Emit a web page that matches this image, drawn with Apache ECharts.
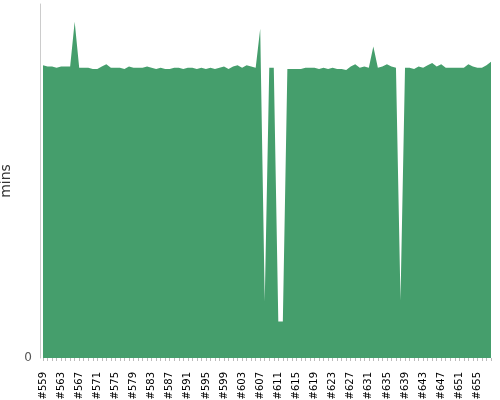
<!DOCTYPE html>
<html lang="en">
<head>
    <meta charset="UTF-8">
    <title>mins</title>
    <style>
        html, body { margin: 0; padding: 0; background: #fff; }
    </style>
</head>
<body>
    <script src="https://cdn.jsdelivr.net/npm/echarts@6/dist/echarts.min.js"></script>
    <div id="main" style="width: 500px;height: 400px;"></div>
    <script>
        // builds #559 ... #658
        var builds = [];
        for (var n = 559; n <= 658; n++) builds.push('#' + n);

        // minutes per build
        var mins = [
            248, 247, 247, 246, 247, 247, 247, 285, 246, 246,
            246, 245, 245, 247, 249, 246, 246, 246, 245, 247,
            246, 246, 246, 247, 246, 245, 246, 245, 245, 246,
            246, 245, 246, 246, 245, 246, 245, 246, 245, 246,
            247, 245, 247, 248, 246, 248, 247, 246, 279, 48,
            246, 246, 31, 31, 245, 245, 245, 245, 246, 246,
            246, 245, 246, 245, 246, 245, 245, 244, 247, 249,
            246, 247, 246, 264, 246, 247, 249, 247, 246, 49,
            246, 246, 245, 247, 246, 248, 250, 247, 249, 246,
            246, 246, 246, 246, 249, 247, 246, 246, 248, 251
        ];

        var yMax = 300;

        var chart = echarts.init(document.getElementById('main'));
        var option = {
            animation: false,
            grid: {
                left: 43,
                right: 9,
                top: 4,
                bottom: 42,
                outerBoundsMode: 'none',
                containLabel: false
            },
            xAxis: {
                type: 'category',
                data: builds,
                boundaryGap: false,
                offset: 4,
                axisLine: { show: false },
                axisTick: {
                    show: true,
                    interval: 0,
                    length: 3,
                    lineStyle: { color: '#bbb' }
                },
                axisLabel: {
                    interval: 3,
                    rotate: 90,
                    margin: 10,
                    fontSize: 10,
                    fontFamily: 'DejaVu Sans',
                    color: '#000'
                }
            },
            yAxis: {
                type: 'value',
                min: 0,
                max: yMax,
                interval: yMax,
                offset: 3,
                name: 'mins',
                nameLocation: 'middle',
                nameGap: 22,
                nameTextStyle: { fontSize: 14, color: '#333', fontFamily: 'DejaVu Sans' },
                axisLine: { show: true, lineStyle: { color: '#ccc' } },
                axisTick: { show: false },
                splitLine: { show: false },
                axisLabel: {
                    showMaxLabel: false,
                    fontSize: 12,
                    color: '#555',
                    margin: 8,
                    fontFamily: 'DejaVu Sans'
                }
            },
            series: [{
                type: 'line',
                data: mins,
                symbol: 'none',
                lineStyle: { width: 0, color: '#459e6c' },
                itemStyle: { color: '#459e6c' },
                areaStyle: { color: '#459e6c', opacity: 1 }
            }]
        };
        chart.setOption(option);
    </script>
</body>
</html>
